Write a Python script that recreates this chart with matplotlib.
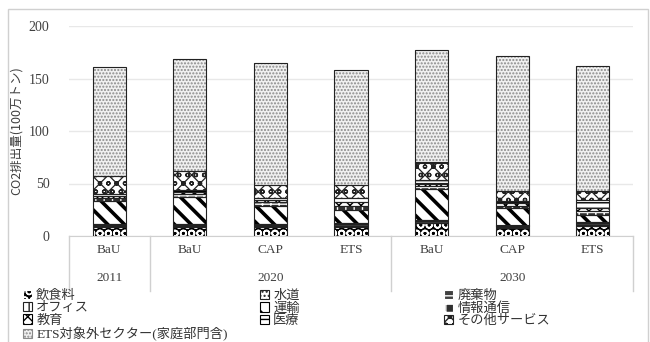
import numpy as np
import matplotlib
matplotlib.use('Agg')
import matplotlib.pyplot as plt
from matplotlib.patches import Patch, Rectangle
import matplotlib.transforms as mtransforms

plt.rcParams['font.family'] = ['Liberation Serif', 'Noto Sans CJK JP']
plt.rcParams['hatch.linewidth'] = 1.0

scenarios = ['BaU', 'BaU', 'CAP', 'ETS', 'BaU', 'CAP', 'ETS']
years = ['2011', '2020', '2030']
year_spans = [(0, 0), (1, 3), (4, 6)]

sectors = ['飲食料', '水道', '廃棄物', 'オフィス', '運輸', '情報通信',
           '教育', '医療', 'その他サービス', 'ETS対象外セクター(家庭部門含)']

# CO2 emissions by sector, 1 million t
food = [9, 9, 9, 9, 12, 8, 10]
water = [0.5, 0.5, 0.5, 0.5, 0.5, 0.5, 0.5]
waste = [1, 1, 1, 1.5, 1.5, 1, 1.5]
office = [0.5, 0.5, 0.5, 1, 1, 0.5, 1]
transport = [22, 26, 18, 13, 30, 17, 7]
ict = [3, 3, 3, 4, 3, 2, 4]
education = [2, 2, 2, 3, 2, 2, 3]
medical = [2, 2, 2, 4, 3, 2, 7]
other_services = [17, 18, 13, 13, 17, 10, 9]
non_ets = [104, 107, 116, 109, 107, 128, 119]

series = [food, water, waste, office, transport, ict,
          education, medical, other_services, non_ets]

# (face, hatch colour, hatch, hatch width)
styles = [
    ('black', 'white', 'OO', 1.2),
    ('white', '#222222', '....', 1.0),
    ('#404040', 'white', '--', 1.0),
    ('white', '#222222', '||', 1.0),
    ('white', 'black', '\\\\', 2.6),
    ('#303030', 'white', '++', 1.0),
    ('white', 'black', 'xxx', 1.0),
    ('white', 'black', '---', 1.0),
    ('white', '#222222', 'xxoo', 0.9),
    ('#f0f0f0', '#8a8a8a', '.....', 1.0),
]

fig = plt.figure(figsize=(6.5, 3.42), dpi=100)
ax = fig.add_axes([69 / 650, 1 - 236 / 342, 564 / 650, 210 / 342])

x = np.arange(len(scenarios))
w = 0.41
bottom = np.zeros(len(scenarios))
for vals, (fc, hc, h, hw) in zip(series, styles):
    vals = np.array(vals, dtype=float)
    bars = ax.bar(x, vals, w, bottom=bottom, color=fc, edgecolor=hc, hatch=h,
                  linewidth=0, zorder=2)
    for b in bars:
        if hasattr(b, 'set_hatch_linewidth'):
            b.set_hatch_linewidth(hw)
    ax.bar(x, vals, w, bottom=bottom, fill=False, edgecolor='#222222',
           linewidth=0.8, zorder=3)
    bottom += vals

ax.set_ylim(0, 200)
ax.set_xlim(-0.5, len(scenarios) - 0.5)
ax.set_yticks([0, 50, 100, 150, 200])
ax.yaxis.grid(True, color='#e8e8e8', linewidth=1, zorder=0)
ax.set_axisbelow(True)
for s in ['left', 'right', 'top']:
    ax.spines[s].set_visible(False)
ax.spines['bottom'].set_color('#d0d0d0')
ax.tick_params(axis='y', length=0, pad=14, labelsize=10, colors='#404040')
ax.tick_params(axis='x', length=0, pad=6, labelsize=9.5, colors='#404040')
ax.set_xticks(x)
ax.set_xticklabels(scenarios)
ax.set_ylabel('CO2排出量(100万トン)', fontsize=9, color='#404040',
              family=['Noto Sans CJK JP'], labelpad=4)

# second level of category labels
trans = mtransforms.blended_transform_factory(ax.transData, ax.transAxes)
for yr, (a, b) in zip(years, year_spans):
    ax.text((a + b) / 2, -0.2, yr, transform=trans, ha='center', va='center',
            fontsize=9.5, color='#404040')
for sep in [-0.5, 0.5, 3.5, 6.5]:
    ax.plot([sep, sep], [0, -0.26], transform=trans, color='#d0d0d0',
            linewidth=1, clip_on=False)

# legend, three columns placed separately
handles = [Patch(facecolor=fc, edgecolor=hc, hatch=h, linewidth=0.8)
           for fc, hc, h, hw in styles]
columns = [[0, 3, 6, 9], [1, 4, 7], [2, 5, 8]]
col_x = [23, 260, 444]
for idx, cx in zip(columns, col_x):
    leg = fig.legend([handles[i] for i in idx], [sectors[i] for i in idx],
                     loc='upper left', bbox_to_anchor=(cx / 650, 1 - 290 / 342),
                     frameon=False, fontsize=9.5, handlelength=0.7,
                     handleheight=0.7, handletextpad=0.3, labelspacing=0.0,
                     borderpad=0, borderaxespad=0)
    for t in leg.get_texts():
        t.set_color('#333333')

fig.patches.append(Rectangle((8 / 650, -0.1), 640 / 650, 1.1 - 9 / 342,
                             transform=fig.transFigure, fill=False,
                             edgecolor='#d0d0d0', linewidth=1))

fig.savefig('out.png', dpi=100)
